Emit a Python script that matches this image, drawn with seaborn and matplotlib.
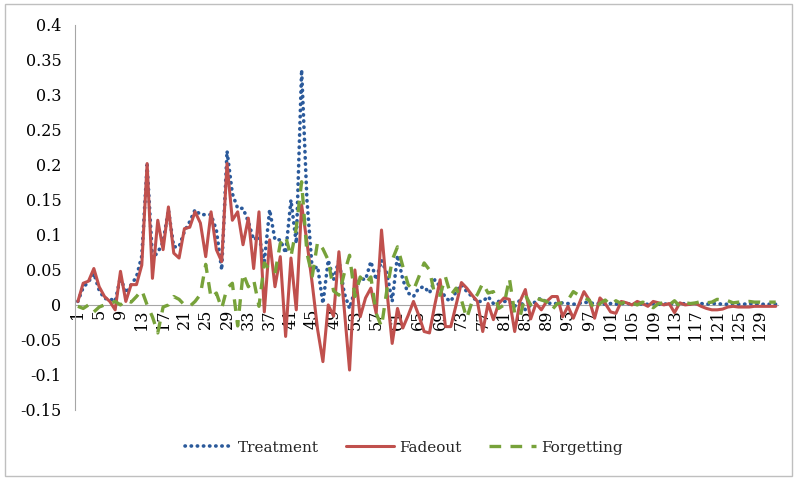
import matplotlib
matplotlib.use('Agg')
import matplotlib.pyplot as plt
import seaborn as sns
import pandas as pd
from matplotlib.patches import Rectangle

treatment = [
    0.005, 0.025, 0.033, 0.045, 0.021, 0.009, 0.009, 0.005, 0.040, 0.017,
    0.029, 0.040, 0.070, 0.200, 0.067, 0.075, 0.090, 0.136, 0.083, 0.083,
    0.105, 0.119, 0.136, 0.129, 0.129, 0.129, 0.107, 0.050, 0.220, 0.159,
    0.138, 0.138, 0.119, 0.093, 0.098, 0.062, 0.136, 0.093, 0.093, 0.074,
    0.150, 0.088, 0.336, 0.150, 0.050, 0.055, 0.002, 0.064, 0.036, 0.064,
    0.017, -0.005, 0.021, 0.038, 0.036, 0.062, 0.036, 0.064, 0.045, 0.005,
    0.071, 0.036, 0.017, 0.012, 0.024, 0.026, 0.017, 0.036, 0.026, 0.010,
    0.005, 0.019, 0.029, 0.019, 0.012, 0.005, 0.005, 0.012, 0.002, 0.005,
    0.005, 0.005, -0.002, 0.007, -0.007, 0.000, 0.005, 0.010, 0.003, 0.002,
    0.002, 0.003, 0.002, 0.001, 0.002, 0.004, 0.003, 0.002, 0.002, 0.001,
    0.002, 0.001, 0.002, 0.002, 0.001, 0.002, 0.001, 0.001, 0.002, 0.001,
    0.001, 0.002, 0.001, 0.001, 0.002, 0.001, 0.002, 0.002, 0.001, 0.002,
    0.002, 0.001, 0.001, 0.002, 0.001, 0.001, 0.002, 0.001, 0.001, 0.001,
    0.001, 0.001,
]

fadeout = [
    0.005, 0.031, 0.034, 0.052, 0.026, 0.012, 0.005, -0.007, 0.048, 0.005,
    0.029, 0.029, 0.057, 0.202, 0.038, 0.121, 0.079, 0.140, 0.074, 0.067,
    0.109, 0.111, 0.133, 0.117, 0.069, 0.133, 0.079, 0.062, 0.202, 0.121,
    0.133, 0.086, 0.124, 0.052, 0.133, -0.010, 0.093, 0.026, 0.069, -0.045,
    0.067, -0.007, 0.143, 0.090, 0.030, -0.035, -0.081, 0.000, -0.016, 0.076,
    -0.005, -0.093, 0.050, -0.017, 0.010, 0.024, -0.012, 0.107, 0.021, -0.055,
    -0.005, -0.033, -0.015, 0.005, -0.015, -0.038, -0.040, 0.000, 0.036, -0.031,
    -0.031, 0.000, 0.032, 0.024, 0.014, 0.005, -0.038, 0.002, -0.021, 0.002,
    0.010, 0.008, -0.038, 0.005, 0.022, -0.020, 0.002, -0.007, 0.005, 0.012,
    0.012, -0.017, -0.002, -0.019, 0.000, 0.019, 0.007, -0.019, 0.010, 0.002,
    -0.010, -0.012, 0.005, 0.003, 0.000, 0.005, 0.002, -0.002, 0.005, 0.003,
    0.000, 0.002, -0.011, 0.003, 0.000, 0.001, 0.002, -0.002, -0.005, -0.007,
    -0.007, -0.006, -0.003, -0.002, -0.003, -0.003, -0.003, -0.002, -0.002, -0.002,
    -0.002, -0.002,
]

forgetting = [
    -0.002, -0.005, 0.000, -0.010, -0.003, 0.000, 0.002, 0.005, 0.000, 0.007,
    0.004, 0.012, 0.021, 0.000, -0.017, -0.040, -0.003, 0.000, 0.012, 0.008,
    0.000, -0.002, 0.005, 0.015, 0.058, 0.010, 0.017, -0.005, 0.024, 0.031,
    -0.030, 0.045, 0.026, 0.036, -0.002, 0.060, 0.050, 0.045, 0.088, 0.098,
    0.069, 0.110, 0.176, 0.074, 0.041, 0.090, 0.080, 0.064, 0.020, 0.014,
    0.045, 0.071, 0.012, 0.040, 0.030, 0.040, -0.012, -0.031, 0.021, 0.064,
    0.083, 0.055, 0.029, 0.021, 0.040, 0.060, 0.050, 0.014, 0.014, 0.040,
    0.014, 0.024, 0.007, -0.019, 0.005, 0.015, 0.031, 0.017, 0.019, -0.005,
    0.000, 0.038, -0.012, -0.017, 0.014, 0.000, 0.010, 0.007, 0.005, -0.007,
    0.002, 0.003, 0.007, 0.019, 0.014, 0.010, 0.007, -0.007, 0.002, 0.007,
    0.000, 0.006, 0.002, 0.005, 0.003, 0.000, 0.004, 0.002, -0.004, 0.002,
    0.003, 0.000, 0.006, -0.002, 0.003, 0.002, 0.003, 0.005, 0.003, 0.004,
    0.008, 0.007, 0.006, 0.003, 0.004, 0.004, 0.005, 0.004, 0.004, 0.003,
    0.004, 0.004,
]

periods = list(range(1, len(treatment) + 1))
y_ticks = [-0.15, -0.1, -0.05, 0, 0.05, 0.1, 0.15, 0.2, 0.25, 0.3, 0.35, 0.4]
y_labels = ['-0.15', '-0.1', '-0.05', '0', '0.05', '0.1', '0.15', '0.2', '0.25', '0.3', '0.35', '0.4']
x_ticks = list(range(1, len(treatment) + 1, 4))

df = pd.DataFrame({'period': periods, 'Treatment': treatment,
                   'Fadeout': fadeout, 'Forgetting': forgetting})

sns.set_style('white')
plt.rcParams['font.family'] = ['DejaVu Serif']

fig = plt.figure(figsize=(8, 4.8), dpi=100)
ax = fig.add_axes([0.094, 0.146, 0.879, 0.802])

sns.lineplot(data=df, x='period', y='Treatment', ax=ax, color='#2B5A9B',
             linewidth=2.6, linestyle=(0, (0.1, 1.6)), dash_capstyle='round',
             label='Treatment')
sns.lineplot(data=df, x='period', y='Fadeout', ax=ax, color='#C0504D',
             linewidth=2.2, label='Fadeout')
sns.lineplot(data=df, x='period', y='Forgetting', ax=ax, color='#77A23A',
             linewidth=2.4, linestyle=(0, (3.5, 2.8)), label='Forgetting')

ax.set_xlim(0.5, len(treatment) + 0.5)
ax.set_ylim(-0.15, 0.4)
ax.set_yticks(y_ticks)
ax.set_yticklabels(y_labels)
ax.set_xticks(x_ticks)
ax.set_xticklabels([str(t) for t in x_ticks])
ax.set_xlabel('')
ax.set_ylabel('')

for side in ['top', 'right']:
    ax.spines[side].set_visible(False)
ax.spines['bottom'].set_position(('data', 0))
ax.spines['bottom'].set_color('#A6A6A6')
ax.spines['left'].set_color('#A6A6A6')
ax.spines['bottom'].set_zorder(0)
ax.tick_params(axis='both', length=0, labelsize=11.5, colors='black')
ax.tick_params(axis='x', pad=3, labelrotation=90)
ax.tick_params(axis='y', pad=10)

handles, labels = ax.get_legend_handles_labels()
ax.get_legend().remove()
fig.legend(handles, labels, loc='center', bbox_to_anchor=(0.505, 0.067), ncol=3,
           frameon=False, fontsize=11, handlelength=3.1, columnspacing=1.8,
           handletextpad=0.35)

fig.patches.append(Rectangle((0.006, 0.008), 0.984, 0.984, transform=fig.transFigure,
                             fill=False, edgecolor='#BFBFBF', linewidth=1))

fig.savefig('out.png', dpi=100)
